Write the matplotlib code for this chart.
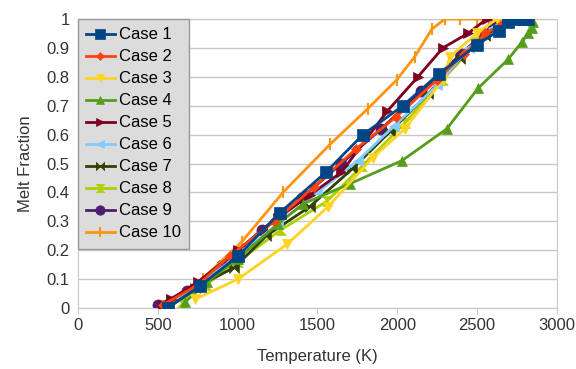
import matplotlib.pyplot as plt
from matplotlib.path import Path

plt.rcParams['font.family'] = ['Liberation Sans', 'DejaVu Sans']

labels = ['Case 1', 'Case 2', 'Case 3', 'Case 4', 'Case 5',
          'Case 6', 'Case 7', 'Case 8', 'Case 9', 'Case 10']

t1 = [563, 764, 1002, 1265, 1553, 1785, 2035, 2260, 2498, 2636, 2693, 2749, 2786, 2818]
f1 = [0.0, 0.076, 0.18, 0.33, 0.47, 0.60, 0.70, 0.81, 0.91, 0.96, 0.99, 1.0, 1.0, 1.0]

t2 = [530, 750, 950, 1230, 1480, 1740, 1990, 2250, 2420, 2550, 2650, 2750]
f2 = [0.01, 0.08, 0.18, 0.30, 0.42, 0.55, 0.66, 0.79, 0.88, 0.95, 0.98, 1.0]

t3 = [733, 1002, 1308, 1565, 1846, 2047, 2285, 2330, 2498, 2623, 2850]
f3 = [0.03, 0.10, 0.22, 0.35, 0.52, 0.62, 0.79, 0.87, 0.95, 1.0, 1.0]

t4 = [670, 808, 1000, 1250, 1409, 1703, 2029, 2310, 2505, 2693, 2780, 2818, 2843, 2850]
f4 = [0.02, 0.09, 0.17, 0.29, 0.36, 0.43, 0.51, 0.62, 0.76, 0.86, 0.92, 0.95, 0.97, 0.99]

t5 = [530, 580, 750, 1000, 1250, 1450, 1650, 1935, 2129, 2285, 2442, 2560]
f5 = [0.01, 0.03, 0.09, 0.20, 0.31, 0.39, 0.47, 0.68, 0.80, 0.90, 0.95, 1.0]

t6 = [550, 750, 1000, 1250, 1500, 1753, 1980, 2250, 2450, 2600, 2700]
f6 = [0.01, 0.08, 0.18, 0.29, 0.40, 0.51, 0.63, 0.77, 0.90, 0.97, 1.0]

t7 = [560, 730, 980, 1180, 1450, 1715, 1954, 2192, 2392, 2550, 2700]
f7 = [0.01, 0.07, 0.14, 0.25, 0.35, 0.48, 0.61, 0.74, 0.86, 0.94, 1.0]

t8 = [650, 800, 1000, 1270, 1560, 1778, 2047, 2285, 2500, 2650]
f8 = [0.02, 0.08, 0.16, 0.27, 0.37, 0.49, 0.64, 0.79, 0.92, 0.99]

t9 = [500, 680, 900, 1150, 1400, 1650, 1900, 2150, 2400, 2600]
f9 = [0.01, 0.06, 0.15, 0.27, 0.38, 0.50, 0.62, 0.75, 0.88, 0.98]

t10 = [560, 780, 1027, 1284, 1578, 1816, 1997, 2110, 2216, 2298, 2392, 2498, 2580]
f10 = [0.02, 0.10, 0.23, 0.40, 0.566, 0.69, 0.79, 0.87, 0.965, 1.0, 1.0, 1.0, 1.0]

temps = [t1, t2, t3, t4, t5, t6, t7, t8, t9, t10]
fracs = [f1, f2, f3, f4, f5, f6, f7, f8, f9, f10]

colors = ['#004586', '#ff420e', '#ffd320', '#579d1c', '#7e0021',
          '#83caff', '#314004', '#aecf00', '#4b1f6f', '#ff950e']

bowtie = Path([(-1, -1), (1, 1), (1, -1), (-1, 1), (-1, -1)],
              [Path.MOVETO, Path.LINETO, Path.LINETO, Path.LINETO, Path.CLOSEPOLY])
hourglass = Path([(-1, -1), (1, -1), (-1, 1), (1, 1), (-1, -1)],
                 [Path.MOVETO, Path.LINETO, Path.LINETO, Path.LINETO, Path.CLOSEPOLY])
markers = ['s', 'D', 'v', '^', '>', '<', bowtie, hourglass, 'o', '|']
sizes = [8, 5, 7, 7, 7, 7, 7, 7, 8, 8]
# first case ends up on top, like the original
zorders = [12, 11, 10, 9, 8, 7, 6, 5, 2, 4]

fig = plt.figure(figsize=(5.76, 3.69), dpi=100)
ax = fig.add_axes([0.1354, 0.1653, 0.8316, 0.7832])

for t, f, c, m, s, z, lab in zip(temps, fracs, colors, markers, sizes, zorders, labels):
    ax.plot(t, f, color=c, marker=m, markersize=s, linewidth=2, zorder=z,
            markeredgewidth=1.5 if m == '|' else 0.5, markeredgecolor=c, label=lab)

ax.set_xlim(0, 3000)
ax.set_ylim(0, 1)
ax.set_xticks(range(0, 3001, 500))
ax.set_yticks([i / 10 for i in range(11)])
ax.set_yticklabels(['0'] + [f'{i / 10:.1f}' for i in range(1, 10)] + ['1'])
ax.grid(axis='y', color='#c8c8c8', linewidth=1)
ax.set_axisbelow(True)
for sp in ax.spines.values():
    sp.set_color('#c8c8c8')
ax.tick_params(axis='y', length=0, labelsize=12, pad=6, colors='#333333')
ax.tick_params(axis='x', length=4, color='#c8c8c8', labelsize=12, colors='#333333')

ax.set_xlabel('Temperature (K)', fontsize=12, labelpad=11, color='#333333')
ax.set_ylabel('Melt Fraction', fontsize=12, labelpad=10, color='#333333')

leg = ax.legend(loc='upper left', bbox_to_anchor=(0, 1), borderaxespad=0,
                fancybox=False, fontsize=12, handlelength=1.7, handletextpad=0.25,
                labelspacing=0.42, borderpad=0.5, framealpha=1, markerscale=0.85)
leg.set_zorder(20)
leg.get_frame().set_facecolor('#dcdcdc')
leg.get_frame().set_edgecolor('#999999')

plt.savefig('out.png', dpi=100)
